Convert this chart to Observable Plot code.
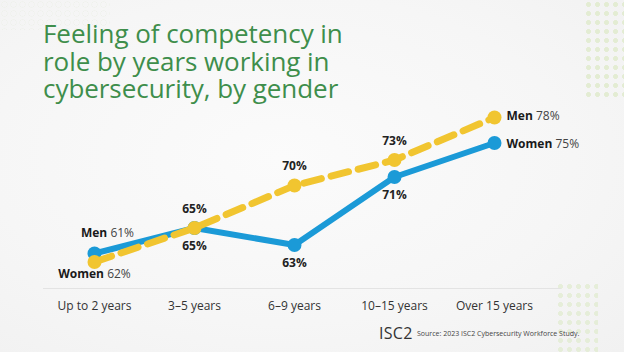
<!DOCTYPE html>
<html>
<head>
<meta charset="utf-8">
<script src="https://cdn.jsdelivr.net/npm/d3@7"></script>
<script src="https://cdn.jsdelivr.net/npm/@observablehq/plot@0.6"></script>
<style>
  html, body { margin: 0; padding: 0; }
  body { width: 624px; height: 352px; overflow: hidden; font-family: "Open Sans", sans-serif; }
  #wrap { position: relative; width: 624px; height: 352px;
    background: radial-gradient(ellipse at 45% 45%, #fbfbfb 0%, #f6f6f6 60%, #f1f1f1 100%); }
  .deco-tr { position: absolute; left: 584px; top: 0; width: 40px; height: 100px;
    background-image: radial-gradient(circle, #dfeacb 2.2px, transparent 2.6px);
    background-size: 9px 9px; opacity: 0.8; }
  .deco-br { position: absolute; left: 556px; top: 282px; width: 42px; height: 70px;
    background-image: radial-gradient(circle, #e2ecd2 2.2px, transparent 2.6px);
    background-size: 9px 9px; opacity: 0.8; }
  .deco-tl { position: absolute; left: 0; top: 0; width: 110px; height: 30px;
    background-image: radial-gradient(circle, transparent 2.4px, #ecefe6 2.8px, transparent 3.4px);
    background-size: 9px 9px; opacity: 0.7; }
  #title { position: absolute; left: 43px; top: 20px; margin: 0; font-family: "Open Sans", sans-serif;
    font-weight: 400; font-size: 26px; line-height: 27.5px; color: #3e8e4b; letter-spacing: -0.05px; }
  #logo { position: absolute; left: 379px; top: 322px; font-family: "Open Sans", sans-serif;
    font-size: 16px; color: #333; letter-spacing: 0.3px; }
  #source { position: absolute; left: 417px; top: 329px; font-family: "Open Sans", sans-serif;
    font-size: 7px; color: #444; }
  #chart { position: absolute; left: 0; top: 0; }
</style>
</head>
<body>
<div id="wrap">
  <div class="deco-tr"></div>
  <div class="deco-br"></div>
  <div class="deco-tl"></div>
  <div id="chart"></div>
  <div id="title">Feeling of competency in<br>role by years working in<br>cybersecurity, by gender</div>
  <div id="logo">ISC2</div>
  <div id="source">Source: 2023 ISC2 Cybersecurity Workforce Study.</div>
</div>
<script>
const categories = ["Up to 2 years", "3–5 years", "6–9 years", "10–15 years", "Over 15 years"];
const men = [61, 65, 70, 73, 78];
const women = [62, 65, 63, 71, 75];

const menData = categories.map((c, i) => ({x: c, y: men[i], i}));
const womenData = categories.map((c, i) => ({x: c, y: women[i], i}));
const last = categories.length - 1;

const blue = "#1b9ad7";
const yellow = "#f1c530";

const chart = Plot.plot({
  width: 624,
  height: 352,
  marginLeft: 43,
  marginRight: 64,
  marginTop: 0,
  marginBottom: 64,
  style: {background: "transparent", fontFamily: "Open Sans, sans-serif"},
  x: {type: "point", domain: categories, range: [93, 494], padding: 0},
  y: {domain: [60, 80], range: [270, 100], axis: null},
  marks: [
    Plot.frame({anchor: "bottom", stroke: "#e3e3e3", strokeWidth: 1}),
    Plot.axisX({tickSize: 0, tickPadding: 13, fontSize: 12, fill: "#333", label: null}),
    Plot.line(womenData, {x: "x", y: "y", stroke: blue, strokeWidth: 6, strokeLinejoin: "round"}),
    Plot.dot(womenData, {x: "x", y: "y", r: 7, fill: blue}),
    Plot.line(menData, {x: "x", y: "y", stroke: yellow, strokeWidth: 7, strokeDasharray: "18,10"}),
    Plot.dot(menData, {x: "x", y: "y", r: 7, fill: yellow}),
    // middle value labels
    Plot.text(menData.filter(d => d.i > 0 && d.i < last), {x: "x", y: "y", text: d => d.y + "%", dy: -19, fontSize: 12, fontWeight: "bold", fill: "#222"}),
    Plot.text(womenData.filter(d => d.i > 0 && d.i < last), {x: "x", y: "y", text: d => d.y + "%", dy: 18, fontSize: 12, fontWeight: "bold", fill: "#222"}),
    // start labels
    Plot.text([womenData[0]], {x: "x", y: "y", text: d => `Men ${men[0]}%`, dx: 13, dy: -20, fontSize: 12, fill: "#444"}),
    Plot.text([womenData[0]], {x: "x", y: "y", text: d => `Women ${d.y}%`, dx: 0, dy: 21, fontSize: 12, fill: "#444"}),
    // end labels
    Plot.text([menData[last]], {x: "x", y: "y", text: d => `Men ${d.y}%`, dx: 12, dy: -1, textAnchor: "start", fontSize: 12, fill: "#444"}),
    Plot.text([womenData[last]], {x: "x", y: "y", text: d => `Women ${d.y}%`, dx: 12, dy: 1, textAnchor: "start", fontSize: 12, fill: "#444"})
  ]
});

// Split "Men 61%" style labels into bold name + regular value
d3.select(chart).selectAll("text").each(function() {
  const t = this.textContent;
  const m = /^(Men|Women) (\d+%)$/.exec(t);
  if (m && this.childElementCount === 0) {
    const sel = d3.select(this);
    sel.text(null);
    sel.append("tspan").attr("font-weight", "bold").attr("fill", "#1a1a1a").text(m[1]);
    sel.append("tspan").text(" " + m[2]);
  }
});

document.getElementById("chart").appendChild(chart);
</script>
</body>
</html>
